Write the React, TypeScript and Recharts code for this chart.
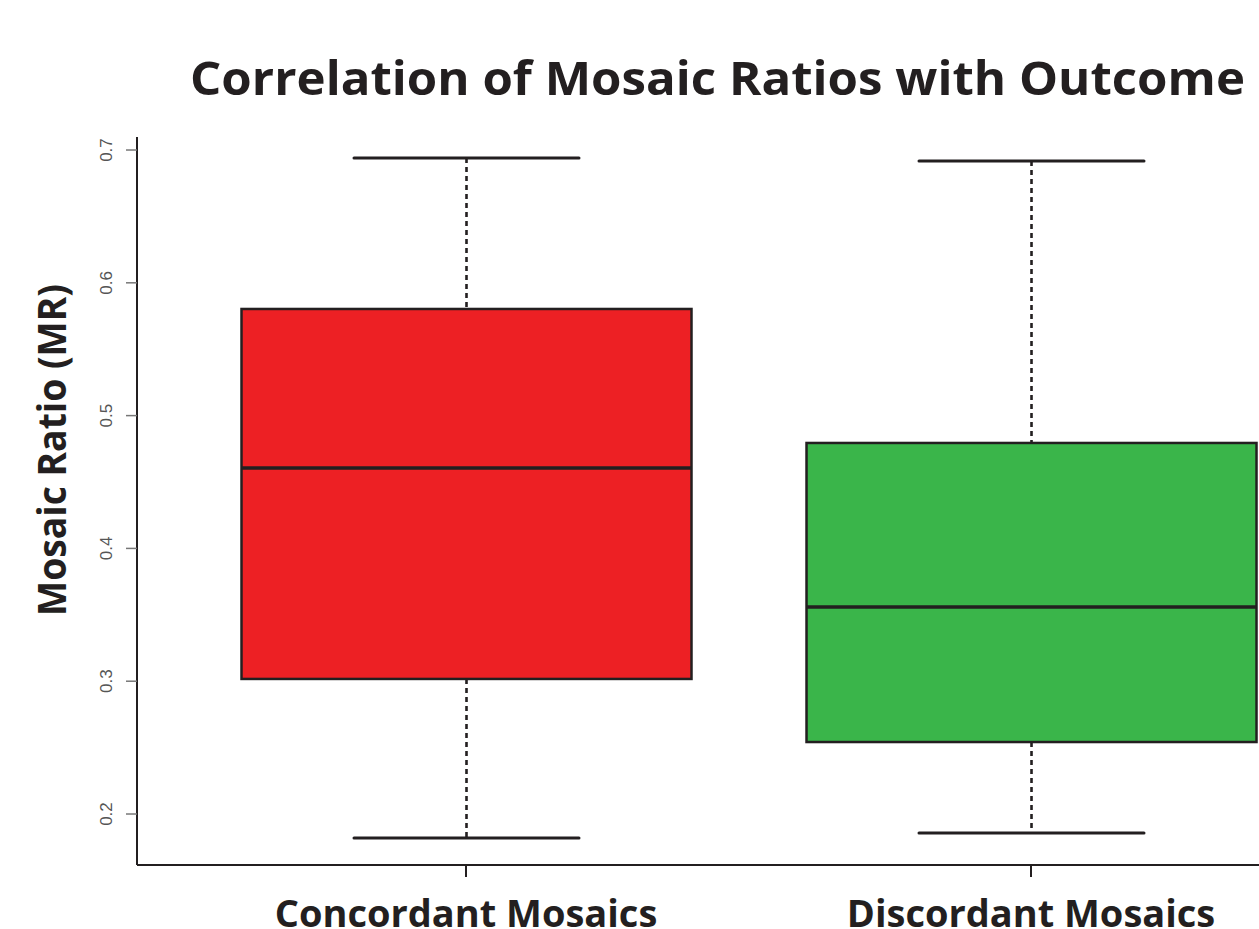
import React from 'react';
import { ComposedChart, Bar, XAxis, YAxis } from 'recharts';

const categories = ['Concordant Mosaics', 'Discordant Mosaics'];
const whiskerLow = [0.182, 0.1857];
const q1Values = [0.3017, 0.2542];
const medianValues = [0.4605, 0.3559];
const q3Values = [0.5803, 0.4794];
const whiskerHigh = [0.694, 0.6917];
const yTicks = [0.2, 0.3, 0.4, 0.5, 0.6, 0.7];
const xTicks = [1, 2];

const boxColors = ['#ED2024', '#3AB54A'];
const INK = '#231F20';
const BOLD_FONT = "'Open Sans', 'Noto Sans', sans-serif";

const data = categories.map((name, i) => ({
  pos: i + 1,
  name,
  range: [whiskerLow[i], whiskerHigh[i]],
  lo: whiskerLow[i],
  q1: q1Values[i],
  med: medianValues[i],
  q3: q3Values[i],
  hi: whiskerHigh[i],
  color: boxColors[i],
}));

const BoxShape = (props: any) => {
  const { x, y, width, height, payload } = props;
  const { lo, q1, med, q3, hi, color } = payload;
  const toY = (v: number) => y + ((hi - v) / (hi - lo)) * height;
  const cx = x + width / 2;
  const capHalf = width / 4;
  return (
    <g>
      <line x1={cx} x2={cx} y1={toY(hi)} y2={toY(q3)} stroke={INK} strokeWidth={2.6} strokeDasharray="5 4" />
      <line x1={cx} x2={cx} y1={toY(q1)} y2={toY(lo)} stroke={INK} strokeWidth={2.6} strokeDasharray="5 4" />
      <line x1={cx - capHalf} x2={cx + capHalf} y1={toY(hi)} y2={toY(hi)} stroke={INK} strokeWidth={3} strokeLinecap="round" />
      <line x1={cx - capHalf} x2={cx + capHalf} y1={toY(lo)} y2={toY(lo)} stroke={INK} strokeWidth={3} strokeLinecap="round" />
      <rect x={x} y={toY(q3)} width={width} height={toY(q1) - toY(q3)} fill={color} stroke={INK} strokeWidth={2.5} />
      <line x1={x} x2={x + width} y1={toY(med)} y2={toY(med)} stroke={INK} strokeWidth={3.5} />
    </g>
  );
};

const YTick = (props: any) => {
  const { y, payload } = props;
  const bx = 112;
  return (
    <text
      x={bx}
      y={y}
      transform={`rotate(-90, ${bx}, ${y})`}
      textAnchor="middle"
      fontFamily="'Liberation Sans', Arial, sans-serif"
      fontSize={17}
      fill="#555"
    >
      {payload.value.toFixed(1)}
    </text>
  );
};

const XTick = (props: any) => {
  const { x, payload } = props;
  const label = categories[payload.value - 1];
  return (
    <text x={x} y={927} textAnchor="middle" fontFamily={BOLD_FONT} fontWeight={700} fontSize={38} fill={INK}>
      {label}
    </text>
  );
};

export default function App() {
  return (
    <div style={{ position: 'absolute', left: 0, top: 0, width: 1259, height: 929, background: '#fff', overflow: 'hidden' }}>
      <ComposedChart
        width={1259}
        height={929}
        data={data}
        margin={{ top: 137, right: 0, bottom: 0, left: 0 }}
      >
        <XAxis
          dataKey="pos"
          type="number"
          domain={[0.4177, 2.4035]}
          ticks={xTicks}
          allowDataOverflow
          height={64}
          tick={<XTick />}
          tickSize={12}
          axisLine={{ stroke: INK, strokeWidth: 2 }}
          tickLine={{ stroke: INK, strokeWidth: 2 }}
        />
        <YAxis
          type="number"
          domain={[0.1616, 0.7098]}
          ticks={yTicks}
          allowDataOverflow
          width={137}
          tick={<YTick />}
          tickSize={11}
          axisLine={{ stroke: INK, strokeWidth: 2 }}
          tickLine={{ stroke: '#777', strokeWidth: 1.5 }}
        />
        <Bar dataKey="range" barSize={450} shape={<BoxShape />} isAnimationActive={false} />
        <text
          x={717.5}
          y={95}
          textAnchor="middle"
          fontFamily={BOLD_FONT}
          fontWeight={700}
          fontSize={47}
          fill={INK}
          textLength={1055}
          lengthAdjust="spacingAndGlyphs"
        >
          Correlation of Mosaic Ratios with Outcome
        </text>
        <text
          x={66}
          y={450}
          transform="rotate(-90, 66, 450)"
          textAnchor="middle"
          fontFamily={BOLD_FONT}
          fontWeight={700}
          fontSize={40}
          fill={INK}
          textLength={332}
          lengthAdjust="spacingAndGlyphs"
        >
          Mosaic Ratio (MR)
        </text>
      </ComposedChart>
    </div>
  );
}
